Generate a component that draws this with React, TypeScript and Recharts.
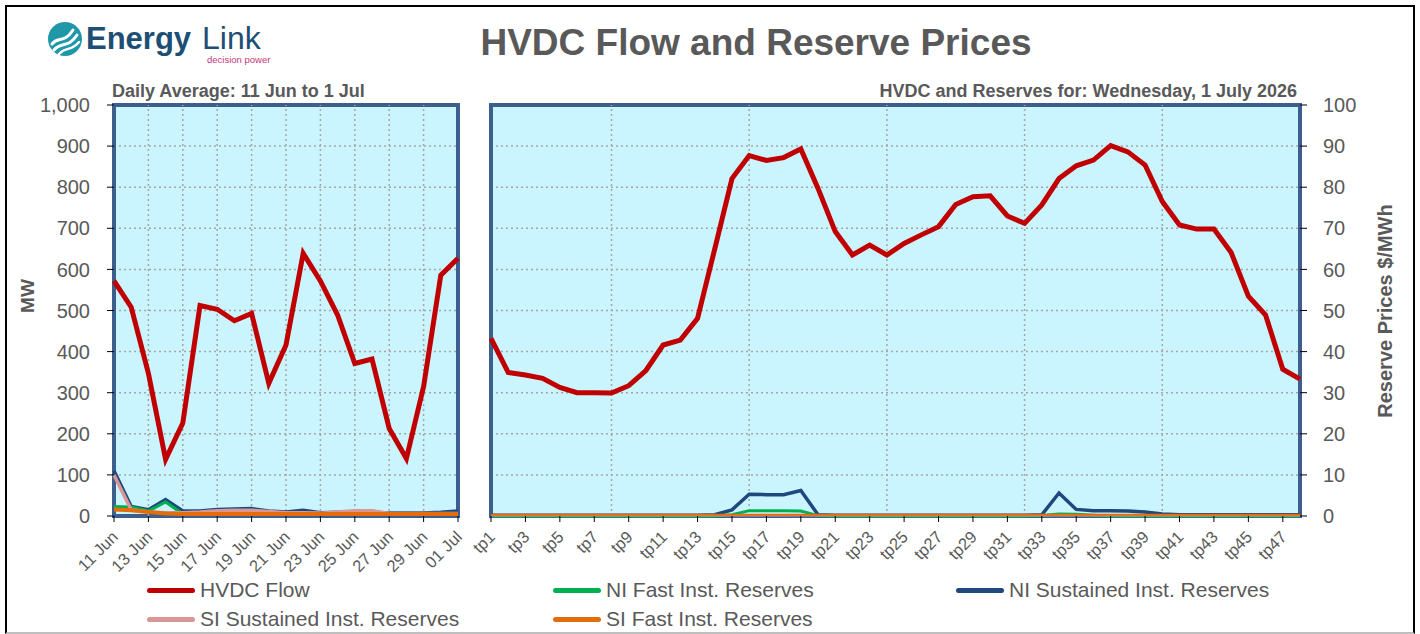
import React from 'react';
import { LineChart, Line, XAxis, YAxis, CartesianGrid, ReferenceLine, ReferenceArea } from 'recharts';

// ---------- Data ----------
const dailyDates = ['11 Jun', '12 Jun', '13 Jun', '14 Jun', '15 Jun', '16 Jun', '17 Jun', '18 Jun', '19 Jun', '20 Jun', '21 Jun', '22 Jun', '23 Jun', '24 Jun', '25 Jun', '26 Jun', '27 Jun', '28 Jun', '29 Jun', '30 Jun', '01 Jul'];
const dailyHvdc = [572, 508, 347, 138, 226, 512, 503, 475, 493, 323, 416, 639, 572, 489, 371, 382, 213, 140, 315, 586, 627];
const dailyNiSustained = [110, 23, 15, 40, 12, 12, 16, 17, 18, 12, 10, 14, 8, 9, 10, 10, 7, 7, 7, 9, 12];
const dailyNiFast = [23, 22, 12, 34, 5, 5, 5, 5, 5, 4, 4, 4, 4, 4, 4, 4, 4, 4, 4, 4, 4];
const dailySiSustained = [100, 15, 10, 8, 8, 10, 13, 14, 14, 11, 8, 8, 7, 10, 13, 13, 6, 6, 6, 6, 6];
const dailySiFast = [16, 14, 10, 6, 5, 5, 5, 5, 5, 5, 5, 5, 5, 5, 5, 5, 5, 5, 5, 5, 5];
const dailyGridDates = ['13 Jun', '15 Jun', '17 Jun', '19 Jun', '21 Jun', '23 Jun', '25 Jun', '27 Jun', '29 Jun'];

const tradingPeriods = ['tp1', 'tp2', 'tp3', 'tp4', 'tp5', 'tp6', 'tp7', 'tp8', 'tp9', 'tp10', 'tp11', 'tp12', 'tp13', 'tp14', 'tp15', 'tp16', 'tp17', 'tp18', 'tp19', 'tp20', 'tp21', 'tp22', 'tp23', 'tp24', 'tp25', 'tp26', 'tp27', 'tp28', 'tp29', 'tp30', 'tp31', 'tp32', 'tp33', 'tp34', 'tp35', 'tp36', 'tp37', 'tp38', 'tp39', 'tp40', 'tp41', 'tp42', 'tp43', 'tp44', 'tp45', 'tp46', 'tp47', 'tp48'];
const tpHvdc = [432, 349, 343, 335, 313, 300, 300, 299, 317, 354, 416, 428, 481, 650, 821, 877, 865, 872, 893, 797, 692, 635, 659, 635, 663, 684, 704, 758, 777, 779, 730, 712, 757, 821, 852, 866, 901, 886, 854, 765, 708, 698, 698, 641, 535, 489, 357, 333];
const tpNiSustained = [0.2, 0.2, 0.2, 0.2, 0.2, 0.2, 0.2, 0.2, 0.2, 0.2, 0.2, 0.2, 0.2, 0.3, 1.5, 5.3, 5.2, 5.2, 6.2, 0.3, 0.2, 0.2, 0.2, 0.2, 0.2, 0.2, 0.2, 0.2, 0.2, 0.2, 0.2, 0.2, 0.3, 5.6, 1.6, 1.3, 1.3, 1.2, 1.0, 0.5, 0.3, 0.3, 0.3, 0.3, 0.3, 0.3, 0.3, 0.3];
const tpNiFast = [0, 0, 0, 0, 0, 0, 0, 0, 0, 0, 0, 0, 0, 0, 0.3, 1.3, 1.3, 1.3, 1.2, 0.1, 0, 0, 0, 0, 0, 0, 0, 0, 0, 0, 0, 0, 0.1, 0.5, 0.4, 0.2, 0, 0, 0, 0, 0, 0, 0, 0, 0, 0, 0, 0];
const tpSiSustained = [0.1, 0.1, 0.1, 0.1, 0.1, 0.1, 0.1, 0.1, 0.1, 0.1, 0.1, 0.1, 0.1, 0.1, 0.1, 0.1, 0.1, 0.1, 0.1, 0.1, 0.1, 0.1, 0.1, 0.1, 0.1, 0.1, 0.1, 0.1, 0.1, 0.1, 0.1, 0.1, 0.1, 0.1, 0.1, 0.1, 0.1, 0.1, 0.1, 0.1, 0.1, 0.1, 0.1, 0.1, 0.1, 0.1, 0.1, 0.1];
const tpSiFast = [0.3, 0.3, 0.3, 0.3, 0.3, 0.3, 0.3, 0.3, 0.3, 0.3, 0.3, 0.3, 0.3, 0.3, 0.3, 0.3, 0.3, 0.3, 0.3, 0.3, 0.3, 0.3, 0.3, 0.3, 0.3, 0.3, 0.3, 0.3, 0.3, 0.3, 0.3, 0.3, 0.3, 0.3, 0.3, 0.3, 0.3, 0.3, 0.3, 0.3, 0.3, 0.3, 0.3, 0.3, 0.3, 0.3, 0.3, 0.3];
const tpGridPeriods = ['tp8', 'tp16', 'tp24', 'tp32', 'tp40'];

const mwTicks = [0, 100, 200, 300, 400, 500, 600, 700, 800, 900, 1000];
const priceTicks = [0, 10, 20, 30, 40, 50, 60, 70, 80, 90, 100];

const seriesNames = ['HVDC Flow', 'NI Fast Inst. Reserves', 'NI Sustained Inst. Reserves', 'SI Sustained Inst. Reserves', 'SI Fast Inst. Reserves'];

const titleText = 'HVDC Flow and Reserve Prices';
const leftSubtitle = 'Daily Average: 11 Jun to 1 Jul';
const rightSubtitle = 'HVDC and Reserves for: Wednesday, 1 July 2026';
const leftAxisTitle = 'MW';
const rightAxisTitle = 'Reserve Prices $/MWh';

// ---------- Styles ----------
const FONT = '"Liberation Sans", Arial, Helvetica, sans-serif';
const GREY = '#595959';
const C_HVDC = '#C00000';
const C_NIF = '#00B050';
const C_NIS = '#1F497D';
const C_SIS = '#DA9694';
const C_SIF = '#E46C0A';
const seriesColors = [C_HVDC, C_NIF, C_NIS, C_SIS, C_SIF];
const PLOT_BG = '#CAF4FE';
const BORDER = '#3C5F8E';
const GRID = '#A6A6A6';

const dailyData = dailyDates.map((d, i) => ({
  date: d,
  hvdc: dailyHvdc[i],
  nif: dailyNiFast[i],
  nis: dailyNiSustained[i],
  sis: dailySiSustained[i],
  sif: dailySiFast[i],
}));

const tpData = tradingPeriods.map((t, i) => ({
  tp: t,
  hvdc: tpHvdc[i],
  nif: tpNiFast[i],
  nis: tpNiSustained[i],
  sis: tpSiSustained[i],
  sif: tpSiFast[i],
}));

const RotTick = (props: any) => {
  const { x, y, payload } = props;
  const ax = x + 5;
  const ay = y + 14;
  return (
    <text
      x={ax}
      y={ay}
      transform={`rotate(-45 ${ax} ${ay})`}
      textAnchor="end"
      fill={GREY}
      fontSize={16.5}
      fontFamily={FONT}
    >
      {payload.value}
    </text>
  );
};

const fmt = (v: number) => v.toLocaleString('en-US');

const legendPos = [
  { left: 147, top: 590 },
  { left: 553, top: 590 },
  { left: 956, top: 590 },
  { left: 147, top: 619 },
  { left: 553, top: 619 },
];

const Logo = () => (
  <div style={{ position: 'absolute', left: 40, top: 14, width: 240, height: 56 }}>
    <svg width={240} height={56} style={{ position: 'absolute', left: 0, top: 0 }}>
      <circle cx={25} cy={25} r={17} fill="#1E97A8" />
      <path d="M12 30 C18 22, 24 30, 33 16" stroke="#fff" strokeWidth={3} fill="none" strokeLinecap="round" />
      <path d="M14 36 C21 27, 28 35, 37 21" stroke="#fff" strokeWidth={3} fill="none" strokeLinecap="round" />
      <path d="M19 40 C26 32, 31 38, 39 28" stroke="#fff" strokeWidth={2.5} fill="none" strokeLinecap="round" />
      <text x={46} y={35} fontFamily={FONT} fontWeight="bold" fontSize={31} fill="#1D4E74">Energy</text>
      <text x={162} y={35} fontFamily={FONT} fontSize={32} fill="#1D4E74">Link</text>
    </svg>
    <div style={{ position: 'absolute', left: 167, top: 41, fontSize: 9.5, lineHeight: '10px', color: '#C2387A', whiteSpace: 'nowrap' }}>decision power</div>
  </div>
);

export default function App() {
  return (
    <div style={{ position: 'absolute', left: 0, top: 0, width: 1420, height: 634, background: '#fff', fontFamily: FONT, overflow: 'hidden' }}>
      <div style={{ position: 'absolute', left: 5, top: 5, width: 1406, height: 625, borderLeft: '2px solid #000', borderTop: '2px solid #000', borderRight: '2px solid #000', borderBottom: '2px solid #BFBFBF' }} />
      <Logo />
      <div style={{ position: 'absolute', left: 0, width: 1512, top: 22, textAlign: 'center', fontSize: 37, fontWeight: 'bold', color: GREY, whiteSpace: 'nowrap' }}>{titleText}</div>
      <div style={{ position: 'absolute', left: 112, top: 81, fontSize: 18, fontWeight: 'bold', color: GREY, whiteSpace: 'nowrap' }}>{leftSubtitle}</div>
      <div style={{ position: 'absolute', right: 1420 - 1297, top: 81, fontSize: 18, fontWeight: 'bold', color: GREY, whiteSpace: 'nowrap' }}>{rightSubtitle}</div>

      <div style={{ position: 'absolute', left: 28, top: 296, transform: 'translate(-50%, -50%) rotate(-90deg)', fontSize: 19, fontWeight: 'bold', color: GREY, whiteSpace: 'nowrap' }}>{leftAxisTitle}</div>
      <div style={{ position: 'absolute', left: 1385, top: 311, transform: 'translate(-50%, -50%) rotate(-90deg)', fontSize: 20, fontWeight: 'bold', color: GREY, whiteSpace: 'nowrap' }}>{rightAxisTitle}</div>

      <div style={{ position: 'absolute', left: 0, top: 80 }}>
        <LineChart width={470} height={500} data={dailyData} margin={{ top: 25, right: 12, left: 0, bottom: 0 }}>
          <CartesianGrid vertical={false} fill={PLOT_BG} stroke={GRID} strokeDasharray="2 3" strokeWidth={1.5} />
          {dailyGridDates.map((d) => (
            <ReferenceLine key={d} x={d} stroke={GRID} strokeDasharray="2 3" strokeWidth={1.5} />
          ))}
          <XAxis dataKey="date" interval={1} tick={<RotTick />} tickSize={6} tickLine={{ stroke: '#000' }} axisLine={false} height={64} />
          <YAxis domain={[0, 1000]} ticks={mwTicks} tickFormatter={fmt} width={114} tickSize={7} tickMargin={17} axisLine={false} tickLine={{ stroke: '#000' }} tick={{ fill: GREY, fontSize: 20, fontFamily: FONT }} />
          <Line dataKey="hvdc" stroke={C_HVDC} strokeWidth={5} dot={false} isAnimationActive={false} />
          <Line dataKey="nis" stroke={C_NIS} strokeWidth={3.5} dot={false} isAnimationActive={false} />
          <Line dataKey="nif" stroke={C_NIF} strokeWidth={3} dot={false} isAnimationActive={false} />
          <Line dataKey="sis" stroke={C_SIS} strokeWidth={3.5} dot={false} isAnimationActive={false} />
          <Line dataKey="sif" stroke={C_SIF} strokeWidth={4} dot={false} isAnimationActive={false} />
          <ReferenceArea x1="11 Jun" x2="01 Jul" y1={0} y2={1000} fill="none" stroke={BORDER} strokeWidth={4} ifOverflow="visible" />
        </LineChart>
      </div>

      <div style={{ position: 'absolute', left: 400, top: 80 }}>
        <LineChart width={1020} height={500} data={tpData} margin={{ top: 25, right: 10, left: 91, bottom: 0 }}>
          <CartesianGrid yAxisId="res" vertical={false} fill={PLOT_BG} stroke={GRID} strokeDasharray="2 3" strokeWidth={1.5} />
          {tpGridPeriods.map((t) => (
            <ReferenceLine key={t} x={t} yAxisId="res" stroke={GRID} strokeDasharray="2 3" strokeWidth={1.5} />
          ))}
          <XAxis dataKey="tp" interval={1} tick={<RotTick />} tickSize={6} tickLine={{ stroke: '#000' }} axisLine={false} height={64} />
          <YAxis yAxisId="mw" hide domain={[0, 1000]} ticks={mwTicks} />
          <YAxis yAxisId="res" orientation="right" domain={[0, 100]} ticks={priceTicks} width={110} tickSize={7} tickMargin={16} axisLine={false} tickLine={{ stroke: '#000' }} tick={{ fill: GREY, fontSize: 20, fontFamily: FONT, textAnchor: 'start' }} />
          <Line yAxisId="mw" dataKey="hvdc" stroke={C_HVDC} strokeWidth={5} dot={false} isAnimationActive={false} />
          <Line yAxisId="res" dataKey="nis" stroke={C_NIS} strokeWidth={3.5} dot={false} isAnimationActive={false} />
          <Line yAxisId="res" dataKey="nif" stroke={C_NIF} strokeWidth={3} dot={false} isAnimationActive={false} />
          <Line yAxisId="res" dataKey="sis" stroke={C_SIS} strokeWidth={2} dot={false} isAnimationActive={false} />
          <Line yAxisId="res" dataKey="sif" stroke={C_SIF} strokeWidth={2} dot={false} isAnimationActive={false} />
          <ReferenceArea yAxisId="res" x1="tp1" x2="tp48" y1={0} y2={100} fill="none" stroke={BORDER} strokeWidth={4} ifOverflow="visible" />
        </LineChart>
      </div>

      {seriesNames.map((name, i) => (
        <div key={name} style={{ position: 'absolute', left: legendPos[i].left, top: legendPos[i].top, transform: 'translateY(-50%)', display: 'flex', alignItems: 'center', whiteSpace: 'nowrap' }}>
          <div style={{ width: 48, height: 5, borderRadius: 2.5, background: seriesColors[i], marginRight: 5 }} />
          <span style={{ fontSize: 21, color: GREY }}>{name}</span>
        </div>
      ))}
    </div>
  );
}
